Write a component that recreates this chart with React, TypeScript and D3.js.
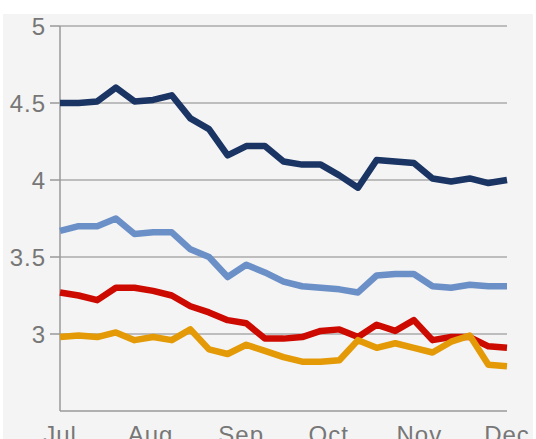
import * as d3 from "d3";
import React from "react";

const width = 536;
const height = 439;
const margin = { top: 26, right: 29, bottom: 28, left: 60 };
const innerWidth = width - margin.left - margin.right;
const innerHeight = height - margin.top - margin.bottom;

// month ticks along the bottom
const monthTicks = ["2008-07-01", "2008-08-01", "2008-09-01", "2008-10-01", "2008-11-01", "2008-12-01"];
const monthLabels = ["Jul", "Aug", "Sep", "Oct", "Nov", "Dec"];
const yTicks = [5, 4.5, 4, 3.5, 3];
const yTickLabels = ["5", "4.5", "4", "3.5", "3"];

// readings, evenly spaced from Jul 1 to Dec 1
const navy = [4.5, 4.5, 4.51, 4.6, 4.51, 4.52, 4.55, 4.4, 4.33, 4.16, 4.22, 4.22, 4.12, 4.1, 4.1, 4.03, 3.95, 4.13, 4.12, 4.11, 4.01, 3.99, 4.01, 3.98, 4.0];
const lightBlue = [3.67, 3.7, 3.7, 3.75, 3.65, 3.66, 3.66, 3.55, 3.5, 3.37, 3.45, 3.4, 3.34, 3.31, 3.3, 3.29, 3.27, 3.38, 3.39, 3.39, 3.31, 3.3, 3.32, 3.31, 3.31];
const red = [3.27, 3.25, 3.22, 3.3, 3.3, 3.28, 3.25, 3.18, 3.14, 3.09, 3.07, 2.97, 2.97, 2.98, 3.02, 3.03, 2.98, 3.06, 3.02, 3.09, 2.96, 2.98, 2.98, 2.92, 2.91];
const orange = [2.98, 2.99, 2.98, 3.01, 2.96, 2.98, 2.96, 3.03, 2.9, 2.87, 2.93, 2.89, 2.85, 2.82, 2.82, 2.83, 2.96, 2.91, 2.94, 2.91, 2.88, 2.95, 2.99, 2.8, 2.79];

const series = [
  { name: "navy", values: navy, color: "#1a3464" },
  { name: "lightBlue", values: lightBlue, color: "#6b8fc7" },
  { name: "red", values: red, color: "#cc0a00" },
  { name: "orange", values: orange, color: "#e39a06" },
];

const parse = d3.timeParse("%Y-%m-%d");
const timeScale = d3
  .scaleTime()
  .domain([parse(monthTicks[0])!, parse(monthTicks[monthTicks.length - 1])!])
  .range([0, innerWidth]);
const xScale = d3
  .scaleLinear()
  .domain([0, navy.length - 1])
  .range([0, innerWidth]);
const yScale = d3.scaleLinear().domain([2.5, 5]).range([innerHeight, 0]);

const line = d3
  .line<number>()
  .x((_, i) => xScale(i))
  .y((d) => yScale(d));

export default function App() {
  return (
    <svg
      width={width}
      height={height}
      viewBox={`0 0 ${width} ${height}`}
      style={{ position: "absolute", left: 0, top: 0, background: "#fff" }}
      fontFamily="'Liberation Sans', Arial, sans-serif"
    >
      <rect x={3} y={14} width={530} height={height - 14} fill="#f4f4f4" />
      <g transform={`translate(${margin.left}, ${margin.top})`}>
        {yTicks.map((t, i) => (
          <g key={t} transform={`translate(0, ${yScale(t)})`}>
            <line x1={0} x2={innerWidth} stroke="#bdbdbd" strokeWidth={2} />
            <line x1={-10} x2={0} stroke="#9a9a9a" strokeWidth={1.5} />
            <text x={-14} dy="0.36em" textAnchor="end" fontSize={24} fill="#777" letterSpacing={1}>
              {yTickLabels[i]}
            </text>
          </g>
        ))}
        <line x1={0} x2={0} y1={0} y2={innerHeight} stroke="#9a9a9a" strokeWidth={1.5} />
        <line x1={0} x2={innerWidth} y1={innerHeight} y2={innerHeight} stroke="#9a9a9a" strokeWidth={1.5} />
        {monthTicks.map((m, i) => (
          <text
            key={m}
            x={timeScale(parse(m)!)}
            y={innerHeight + 32}
            textAnchor="middle"
            fontSize={24}
            fill="#777"
            letterSpacing={1}
          >
            {monthLabels[i]}
          </text>
        ))}
        {series.map((s) => (
          <path
            key={s.name}
            d={line(s.values) ?? ""}
            fill="none"
            stroke={s.color}
            strokeWidth={6.5}
            strokeLinejoin="round"
            strokeLinecap="butt"
          />
        ))}
      </g>
    </svg>
  );
}
